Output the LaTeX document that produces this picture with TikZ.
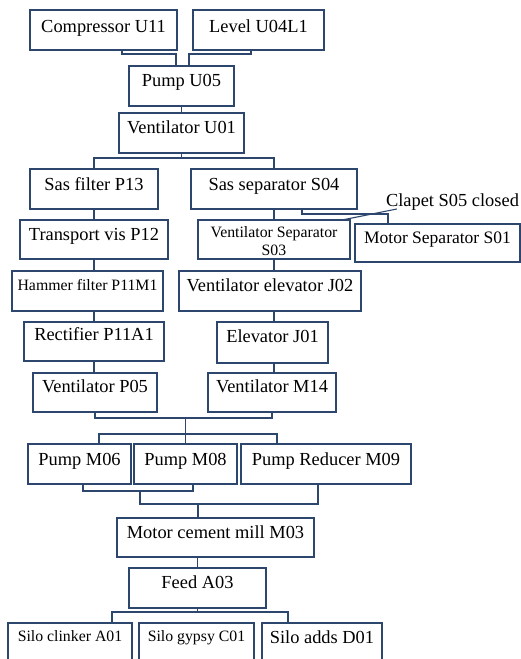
\documentclass[tikz,border=0pt]{standalone}
\usepackage{fontspec}
\setmainfont{Liberation Serif}
\usetikzlibrary{calc}
\definecolor{navy}{RGB}{45,70,110}
\tikzset{
  boxst/.style={draw=navy, line width=1.1pt, rectangle, inner sep=0pt, outer sep=0pt, anchor=north west},
  conn/.style={draw=navy, line width=1.1pt},
  big/.style={font=\fontsize{18.4}{20}\selectfont, anchor=base, inner sep=0pt},
  mid/.style={font=\fontsize{17.5}{20}\selectfont, anchor=base, inner sep=0pt},
  small/.style={font=\fontsize{15.8}{18}\selectfont, anchor=base, inner sep=0pt},
}
\newcommand\mkbox[5]{\node[boxst, minimum width={(#4-#2)*1pt}, minimum height={(#5-#3)*1pt}] (#1) at (#2,#3) {};}
\begin{document}
\begin{tikzpicture}[x=1pt,y=-1pt]
\useasboundingbox (0,0) rectangle (521,659);
\clip (0,0) rectangle (521,659);
% boxes
\mkbox{comp}{30}{10}{177}{50}
\mkbox{level}{193}{10}{324}{50}
\mkbox{pump}{129}{66}{234}{106}
\mkbox{vent}{119}{113}{244}{153}
\mkbox{sasf}{30}{169}{158}{209}
\mkbox{sass}{191}{169}{357}{209}
\mkbox{trans}{20}{220}{168}{259}
\mkbox{vsep}{198}{220}{350}{259}
\mkbox{msep}{355}{224}{520}{262}
\mkbox{hammer}{12}{271}{163}{311}
\mkbox{jtwo}{179}{271}{361}{311}
\mkbox{rect}{24}{322}{164}{361}
\mkbox{jone}{217}{322}{328}{363}
\mkbox{pfive}{33}{373}{157}{412}
\mkbox{mfourteen}{208}{373}{336}{412}
\mkbox{msix}{28}{444}{131}{484}
\mkbox{meight}{134}{444}{237}{484}
\mkbox{mnine}{241}{444}{411}{484}
\mkbox{mill}{117}{518}{314}{557}
\mkbox{feed}{129}{568}{266}{608}
\mkbox{siloa}{8}{623}{132}{680}
\mkbox{silob}{139}{623}{254}{680}
\mkbox{siloc}{262}{623}{382}{680}
% texts
\node[big] (compT) at ([yshift=-22pt]comp.north) {Compressor U11};
\node[big] (levelT) at ([yshift=-22pt]level.north) {Level U04L1};
\node[big] (pumpT) at ([yshift=-20pt]pump.north) {Pump U05};
\node[big] (ventT) at ([yshift=-20pt]vent.north) {Ventilator U01};
\node[big] (sasfT) at ([yshift=-21pt]sasf.north) {Sas filter P13};
\node[big] (sassT) at ([yshift=-21pt]sass.north) {Sas separator S04};
\node[big] (transT) at ([yshift=-20pt]trans.north) {Transport vis P12};
\node[small] (vsepT) at ([yshift=-17pt]vsep.north) {Ventilator Separator};
\node[small] (vsepU) at ([yshift=-35pt]vsep.north) {S03};
\node[mid] (msepT) at ([yshift=-19pt]msep.north) {Motor Separator S01};
\node[small] (hammerT) at ([yshift=-19pt]hammer.north) {Hammer filter P11M1};
\node[big] (jtwoT) at ([yshift=-20pt]jtwo.north) {Ventilator elevator J02};
\node[big] (rectT) at ([yshift=-18pt]rect.north) {Rectifier P11A1};
\node[big] (joneT) at ([yshift=-20pt]jone.north) {Elevator J01};
\node[big] (pfiveT) at ([yshift=-19pt]pfive.north) {Ventilator P05};
\node[big] (mfourteenT) at ([yshift=-19pt]mfourteen.north) {Ventilator M14};
\node[big] (msixT) at ([yshift=-21pt]msix.north) {Pump M06};
\node[big] (meightT) at ([yshift=-21pt]meight.north) {Pump M08};
\node[big] (mnineT) at ([yshift=-21pt]mnine.north) {Pump Reducer M09};
\node[big] (millT) at ([yshift=-20pt]mill.north) {Motor cement mill M03};
\node[big] (feedT) at ([yshift=-20pt]feed.north) {Feed A03};
\node[small] (siloaT) at ([yshift=-18pt]siloa.north) {Silo clinker A01};
\node[small] (silobT) at ([yshift=-18pt]silob.north) {Silo gypsy C01};
\node[big] (silocT) at ([yshift=-20pt]siloc.north) {Silo adds D01};
\node[big] (clapet) at (452.5,206) {Clapet S05 closed};
% connectors
\draw[conn] ([xshift=92pt]comp.south west) -- ++(0,4) -| ([xshift=-5.5pt]pump.north);
\draw[conn] ([xshift=58pt]level.south west) -- ++(0,4) -| ([xshift=7.5pt]pump.north);
\draw[conn] (pump.south) -- (pump.south |- vent.north);
\draw[conn] (vent.south) -- ++(0,5) coordinate (vj);
\draw[conn] (sasf.north) -- (sasf.north |- vj) -- (sass.north |- vj) -- (sass.north);
\draw[conn] (sasf.south) -- (sasf.south |- trans.north);
\draw[conn] (trans.south) -- (trans.south |- hammer.north);
\draw[conn] (trans.south |- hammer.south) -- (trans.south |- rect.north);
\draw[conn] (rect.south) -- (rect.south |- pfive.north);
\draw[conn] (sass.south) -- (sass.south |- vsep.north);
\draw[conn] (sass.south |- vsep.south) -- (sass.south |- jtwo.north);
\draw[conn] (sass.south |- jtwo.south) -- (sass.south |- jone.north);
\draw[conn] (sass.south |- jone.south) -- (sass.south |- mfourteen.north);
\draw[conn] ([xshift=28pt]sass.south) -- ++(0,5) -| ([xshift=-49.5pt]msep.north);
\draw[conn] ([xshift=11pt,yshift=-3pt]clapet.base west) -- ([xshift=-8pt]vsep.north east);
\draw[conn] (pfive.south) -- ++(0,6) coordinate (h1) -- (mfourteen.south |- h1) -- (mfourteen.south);
\draw[conn] (meight.north) -- (meight.north |- h1);
\draw[conn] ([xshift=19.5pt]msix.north) -- ++(0,-10) -| ([xshift=-49pt]mnine.north);
\draw[conn] ([xshift=3.5pt]msix.south) -- ++(0,7) -| ([xshift=7.5pt]meight.south);
\draw[conn] ([xshift=-8pt]mnine.south) -- ++(0,20) -| ([xshift=60.5pt,yshift=-7pt]msix.south);
\draw[conn] ([xshift=-17.5pt]mill.north) -- ++(0,-14);
\draw[conn] (feed.north |- mill.south) -- (feed.north);
\draw[conn] (feed.south) -- ++(0,4);
\draw[conn] ([xshift=42pt]siloa.north) -- ++(0,-11) -| ([xshift=-34pt]siloc.north);
\end{tikzpicture}
\end{document}
